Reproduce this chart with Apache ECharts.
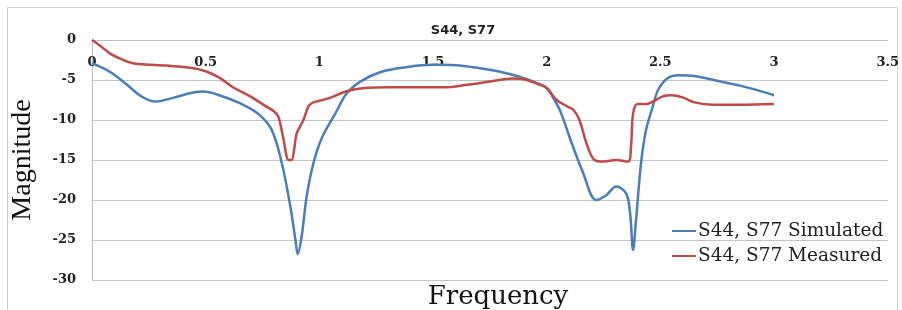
<!DOCTYPE html>
<html>
<head>
<meta charset="utf-8">
<script src="https://cdn.jsdelivr.net/npm/echarts@6/dist/echarts.min.js"></script>
<style>
  html, body { margin: 0; padding: 0; background: #fff; }
  #chart { width: 902px; height: 310px; }
</style>
</head>
<body>
<div id="chart"></div>
<script>
// frequency / magnitude
var simFreq = [0, 0.08, 0.15, 0.22, 0.28, 0.36, 0.44, 0.49, 0.56, 0.65, 0.73, 0.79, 0.835, 0.873, 0.895, 0.905, 0.922, 0.944, 0.974, 1.01, 1.07, 1.12, 1.18, 1.27, 1.38, 1.5, 1.6, 1.7, 1.8, 1.88, 1.95, 2.0, 2.03, 2.06, 2.1, 2.16, 2.218, 2.262, 2.306, 2.35, 2.367, 2.38, 2.393, 2.415, 2.437, 2.467, 2.49, 2.53, 2.58, 2.65, 2.75, 2.85, 2.93, 3.0];
var simMag = [-2.9, -4.0, -5.5, -7.1, -7.7, -7.2, -6.6, -6.45, -6.9, -7.9, -9.2, -11.2, -15.4, -20.9, -25, -26.75, -24.6, -19.6, -15.4, -12.3, -9.2, -6.7, -5.2, -4.0, -3.4, -3.1, -3.15, -3.5, -4.0, -4.6, -5.3, -6.0, -7.3, -8.9, -12.1, -16.6, -20, -19.4, -18.3, -19.2, -21.7, -26.25, -22.5, -15.4, -11.25, -8.3, -6.25, -4.8, -4.4, -4.5, -5.1, -5.7, -6.3, -6.9];

var measFreq = [0, 0.04, 0.08, 0.13, 0.18, 0.26, 0.33, 0.44, 0.5, 0.56, 0.62, 0.7, 0.76, 0.8, 0.82, 0.843, 0.865, 0.878, 0.89, 0.9, 0.93, 0.952, 0.974, 1.04, 1.12, 1.2, 1.3, 1.45, 1.55, 1.65, 1.75, 1.85, 1.9, 1.96, 2.0, 2.044, 2.09, 2.118, 2.144, 2.175, 2.21, 2.25, 2.306, 2.358, 2.371, 2.38, 2.4, 2.437, 2.48, 2.515, 2.55, 2.6, 2.65, 2.73, 2.85, 3.0];
var measMag = [0, -0.8, -1.7, -2.4, -2.9, -3.1, -3.2, -3.5, -3.9, -4.7, -5.9, -7.1, -8.2, -8.9, -9.6, -12.5, -15, -15, -13.5, -11.7, -10, -8.3, -7.8, -7.3, -6.4, -6.0, -5.9, -5.9, -5.9, -5.6, -5.2, -4.8, -4.9, -5.5, -6.0, -7.5, -8.3, -8.75, -10, -12.9, -15, -15.2, -15, -15.2, -13.3, -9.2, -8.0, -8.0, -7.5, -7.0, -6.9, -7.2, -7.8, -8.1, -8.1, -8.0];

var seriesNames = ['S44, S77 Simulated', 'S44, S77 Measured'];

// pairs
var pairs = function (xs, ys) {
    var out = [], i;
    for (i = 0; i < xs.length; i++) out.push([xs[i], ys[i]]);
    return out;
};

var chart = echarts.init(document.getElementById('chart'));

chart.setOption({
    animation: false,
    graphic: [{
        type: 'rect',
        shape: { x: 7.5, y: 7.5, width: 890, height: 320 },
        style: { fill: 'none', stroke: '#d0d0d0', lineWidth: 1 }
    }],
    title: [{
        text: 'S44, S77',
        left: 458, top: 19, textAlign: 'center',
        textStyle: { fontFamily: 'DejaVu Sans', fontWeight: 'bold', fontSize: 13, color: '#222' }
    }, {
        text: 'Frequency',
        left: 493, top: 279, textAlign: 'center',
        textStyle: { fontFamily: 'DejaVu Serif', fontWeight: 'normal', fontSize: 26, color: '#111' }
    }],
    legend: {
        orient: 'vertical',
        left: 667, top: 216,
        itemWidth: 24, itemHeight: 2, itemGap: 5,
        icon: 'rect',
        textStyle: { fontFamily: 'DejaVu Serif', fontSize: 18.5, color: '#222', lineHeight: 20, padding: [0, 0, 0, -3] },
        data: seriesNames
    },
    grid: { left: 92, right: 9, top: 40, bottom: 30 },
    xAxis: {
        type: 'value',
        position: 'top',
        min: 0, max: 3.5, interval: 0.5,
        axisLine: { lineStyle: { color: '#bdbdbd' } },
        axisTick: { show: false },
        splitLine: { show: false },
        axisLabel: { inside: true, margin: 16, fontFamily: 'DejaVu Serif', fontWeight: 'bold', fontSize: 13, color: '#222' }
    },
    yAxis: {
        type: 'value',
        min: -30, max: 0, interval: 5,
        name: 'Magnitude',
        nameLocation: 'middle',
        nameRotate: 90,
        nameGap: 55,
        nameTextStyle: { fontFamily: 'Liberation Serif', fontSize: 28, color: '#111' },
        axisLine: { show: true, lineStyle: { color: '#bdbdbd' } },
        axisTick: { show: false },
        splitLine: { lineStyle: { color: '#c4c4c4', width: 1 } },
        axisLabel: { margin: 16, fontFamily: 'DejaVu Serif', fontWeight: 'bold', fontSize: 13, color: '#222' }
    },
    series: [{
        name: seriesNames[0],
        type: 'line',
        smooth: 0.35,
        symbol: 'none',
        lineStyle: { color: '#4a7ebb', width: 2.5 },
        itemStyle: { color: '#4a7ebb' },
        data: pairs(simFreq, simMag)
    }, {
        name: seriesNames[1],
        type: 'line',
        smooth: 0.35,
        symbol: 'none',
        lineStyle: { color: '#be4b48', width: 2.5 },
        itemStyle: { color: '#be4b48' },
        data: pairs(measFreq, measMag)
    }]
});
</script>
</body>
</html>
